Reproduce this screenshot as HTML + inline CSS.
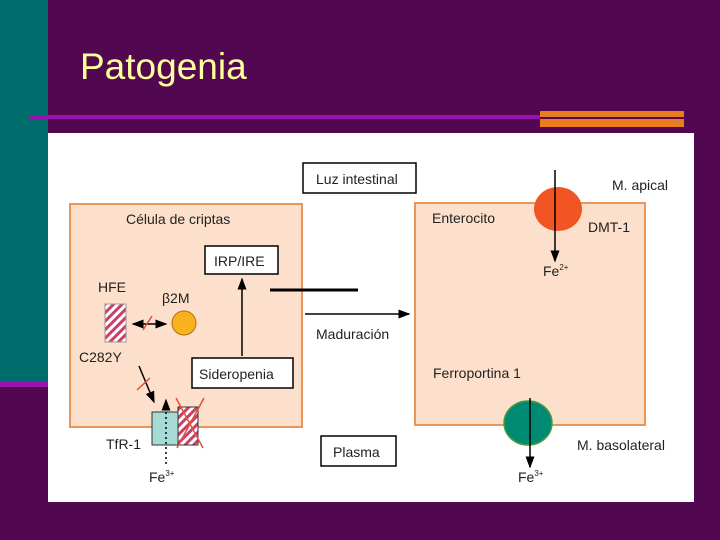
<!DOCTYPE html>
<html><head><meta charset="utf-8"><style>
body{margin:0;width:720px;height:540px;background:#520751;overflow:hidden;position:relative;font-family:"Liberation Sans",sans-serif}
</style></head><body>
<div style="position:absolute;left:0;top:0;width:48px;height:382px;background:#006b6b"></div>
<div style="position:absolute;left:0;top:382px;width:48px;height:5px;background:#9a12b0"></div>
<div style="position:absolute;left:30px;top:115px;width:510px;height:4px;background:#9a12b0"></div>
<div style="position:absolute;left:540px;top:111px;width:144px;height:6px;background:#e87c1e"></div>
<div style="position:absolute;left:540px;top:119px;width:144px;height:8px;background:#e87c1e"></div>
<div style="position:absolute;left:80px;top:46px;font-size:37px;color:#ffff99">Patogenia</div>
<svg style="position:absolute;left:0;top:0" width="720" height="540" font-family="Liberation Sans, sans-serif">
<defs>
<pattern id="h" width="6" height="6" patternUnits="userSpaceOnUse" patternTransform="rotate(45)"><rect width="6" height="6" fill="#fff"/><rect width="3" height="6" fill="#c8406a"/></pattern>
<marker id="a" markerWidth="8" markerHeight="8" refX="7" refY="4" orient="auto"><path d="M0,1 L8,4 L0,7z" fill="#000"/></marker>
<marker id="b" markerWidth="8" markerHeight="8" refX="1" refY="4" orient="auto"><path d="M8,1 L0,4 L8,7z" fill="#000"/></marker>
</defs>
<rect x="48" y="133" width="646" height="369" fill="#fff"/>
<rect x="70" y="204" width="232" height="223" fill="#fde0cc" stroke="#e8965a" stroke-width="2"/>
<rect x="415" y="203" width="230" height="222" fill="#fde0cc" stroke="#e8965a" stroke-width="2"/>
<g font-size="14" fill="#222">
<rect x="303" y="163" width="113" height="30" fill="#fff" stroke="#000" stroke-width="1.5"/>
<text x="316" y="184">Luz intestinal</text>
<text x="126" y="224">Célula de criptas</text>
<rect x="205" y="246" width="73" height="28" fill="#fff" stroke="#000" stroke-width="1.5"/>
<text x="214" y="266">IRP/IRE</text>
<text x="98" y="292">HFE</text>
<text x="162" y="303">β2M</text>
<rect x="105" y="304" width="21" height="38" fill="url(#h)" stroke="#999"/>
<circle cx="184" cy="323" r="12" fill="#f7b21e" stroke="#b07010"/>
<line x1="133" y1="324" x2="166" y2="324" stroke="#000" stroke-width="1.5" marker-end="url(#a)" marker-start="url(#b)"/>
<line x1="143" y1="330" x2="152" y2="316" stroke="#e0503a" stroke-width="1.5"/>
<text x="79" y="362">C282Y</text>
<line x1="139" y1="366" x2="154" y2="402" stroke="#000" stroke-width="1.5" marker-end="url(#a)"/>
<line x1="137" y1="390" x2="150" y2="378" stroke="#e0503a" stroke-width="1.5"/>
<rect x="192" y="358" width="101" height="30" fill="#fff" stroke="#000" stroke-width="1.5"/>
<text x="199" y="379">Sideropenia</text>
<line x1="242" y1="356" x2="242" y2="279" stroke="#000" stroke-width="1.5" marker-end="url(#a)"/>
<rect x="152" y="412" width="26" height="33" fill="#a6dbd6" stroke="#333"/>
<rect x="178" y="407" width="20" height="38" fill="url(#h)" stroke="#333"/>
<line x1="176" y1="398" x2="203" y2="448" stroke="#e0503a" stroke-width="1.5"/>
<line x1="204" y1="398" x2="177" y2="448" stroke="#e0503a" stroke-width="1.5"/>
<line x1="166" y1="464" x2="166" y2="400" stroke="#000" stroke-width="1.5" stroke-dasharray="2,3" marker-end="url(#a)"/>
<text x="106" y="449">TfR-1</text>
<text x="149" y="482">Fe<tspan font-size="8" dy="-6">3+</tspan></text>
<line x1="270" y1="290" x2="358" y2="290" stroke="#000" stroke-width="3"/>
<line x1="305" y1="314" x2="409" y2="314" stroke="#000" stroke-width="1.5" marker-end="url(#a)"/>
<text x="316" y="339">Maduración</text>
<rect x="321" y="436" width="75" height="30" fill="#fff" stroke="#000" stroke-width="1.5"/>
<text x="333" y="457">Plasma</text>
<text x="432" y="223">Enterocito</text>
<ellipse cx="558" cy="209" rx="24" ry="22" fill="#f05523"/>
<line x1="555" y1="170" x2="555" y2="261" stroke="#000" stroke-width="1.5" marker-end="url(#a)"/>
<text x="612" y="190">M. apical</text>
<text x="588" y="232">DMT-1</text>
<text x="543" y="276">Fe<tspan font-size="8" dy="-6">2+</tspan></text>
<text x="433" y="378">Ferroportina 1</text>
<ellipse cx="528" cy="423" rx="24" ry="22" fill="#008a74" stroke="#4a9a3a" stroke-width="1.5"/>
<line x1="530" y1="398" x2="530" y2="467" stroke="#000" stroke-width="1.5" marker-end="url(#a)"/>
<text x="577" y="450">M. basolateral</text>
<text x="518" y="482">Fe<tspan font-size="8" dy="-6">3+</tspan></text>
</g>
</svg>
</body></html>
